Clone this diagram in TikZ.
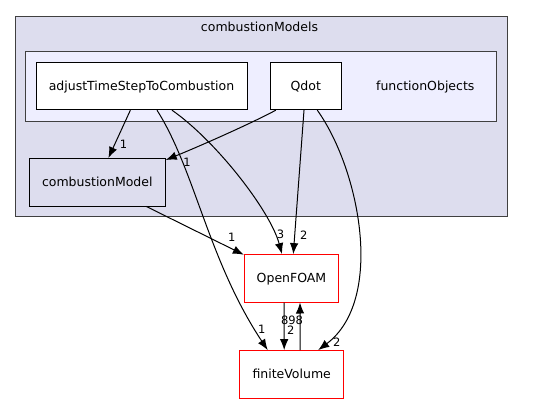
\documentclass[tikz,border=0pt]{standalone}
\usepackage{fontspec}
\setmainfont{DejaVu Sans}
\usetikzlibrary{arrows.meta}
\definecolor{clusterouter}{HTML}{DDDDEE}
\definecolor{clusterinner}{HTML}{EEEEFF}
\definecolor{clusterline}{HTML}{404040}
\begin{document}
\begin{tikzpicture}[x=1pt,y=-1pt,
    dirbox/.style={draw=black,line width=0.9pt,inner sep=0pt,minimum height=47.5pt,
      text height=9pt,text depth=0.5pt,font=\fontsize{12.5}{14}\selectfont},
    extbox/.style={dirbox,draw=red,fill=white},
    dirlabel/.style={inner sep=0pt,text height=9pt,text depth=0.5pt,font=\fontsize{12.5}{14}\selectfont},
    lbl/.style={inner sep=0pt,text height=8.4pt,text depth=0pt,font=\fontsize{11.5}{13}\selectfont},
    dep/.style={line width=1pt,-{Latex[length=11pt,width=8.5pt]}}]
    	\useasboundingbox (0,0) rectangle (535,404);
    	% clusters
    	\filldraw [fill=clusterouter, draw=clusterline, line width=0.9pt] (15,16) rectangle (507,216.5);
    	\node [dirlabel] (outertitle) at (259.5,27.5) {combustionModels};
    	\filldraw [fill=clusterinner, draw=clusterline, line width=0.9pt] (25.7,51.7) rectangle (496.7,121);
    	\node [dirlabel] (innertitle) at (425.3,86) {functionObjects};

    		\node [dirbox, fill=white, minimum width=211pt] (adjust) at (141.5,86) {adjustTimeStepToCombustion};
    		\node [dirbox, fill=white, minimum width=71pt] (qdot) at (305.8,86) {Qdot};
    		\node [dirbox, fill=clusterouter, minimum width=136pt] (cmodel) at (97.3,182.2) {combustionModel};
    		\node [extbox, minimum width=94.4pt] (openfoam) at (291.5,278.3) {OpenFOAM};
    		\node [extbox, minimum width=104pt] (finitevol) at (291.7,374.3) {finiteVolume};

    		\draw [dep] (adjust) -- (cmodel);% straight ones
    		\draw [dep] (qdot) -- (openfoam);
    		\draw [dep] (cmodel) -- (openfoam);
    		\draw [dep] ([xshift=-7.5pt]openfoam.south) -- ([xshift=-7.5pt]finitevol.north);
    		\draw [dep] ([xshift=8.5pt]finitevol.north) -- ([xshift=8.5pt]openfoam.south);
    		\draw [dep] ([xshift=15.5pt]adjust.south)
    			.. controls (195,170) and (208,260) .. ([xshift=-24pt]finitevol.north);% curved ones
    		\draw [dep] ([xshift=30.5pt]adjust.south)
    			.. controls (215,140) and (270,210) .. ([xshift=-9.5pt]openfoam.north);
    		\draw [dep] ([xshift=-30pt]qdot.south)
    			.. controls (250,124) and (200,146) .. ([yshift=-2pt]cmodel.north east);
    		\draw [dep] ([xshift=11.5pt]qdot.south)
    			.. controls (360,170) and (385,300) .. ([xshift=26.5pt]finitevol.north);

    		\node [lbl] (l1) at (123.5,144.5) {1};
    		\node [lbl] (l2) at (187,162.5) {1};
    		\node [lbl] (l3) at (280.5,233.8) {3};
    		\node [lbl] (l4) at (303.7,235.5) {2};
    		\node [lbl] (l5) at (231.7,237.2) {1};
    		\node [lbl] (l6) at (261.8,329.5) {1};
    		\node [lbl] (l7) at (290.8,330.5) {2};
    		\node [lbl] (l8) at (292,320.5) {898};
    		\node [lbl] (l9) at (336.7,342) {2};
\end{tikzpicture}
\end{document}
